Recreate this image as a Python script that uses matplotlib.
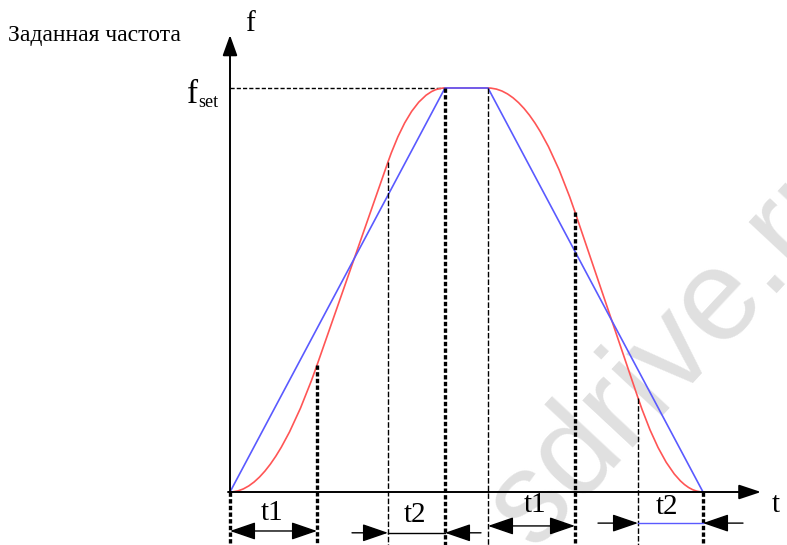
import numpy as np
import matplotlib
matplotlib.use("Agg")
import matplotlib.pyplot as plt
from matplotlib.path import Path
from matplotlib.patches import PathPatch

# schematic: time in arbitrary units, frequency normalised to f_set = 1
t_acc = [0, 87, 158, 215]        # start, end of t1, start of t2, end of acceleration
f_acc = [0, 0.314, 0.817, 1.0]
t_dec = [258, 345, 408, 473]     # start, end of t1, start of t2, end of deceleration
f_dec = [1.0, 0.693, 0.233, 0.0]
t_lin = [0, 215, 258, 473]       # linear ramp
f_lin = [0, 1.0, 1.0, 0]

title_txt = "Заданная частота"
serif = ["Liberation Serif", "DejaVu Serif"]

fig = plt.figure(figsize=(7.87, 5.45), dpi=100)
ax = fig.add_axes([0, 0, 1, 1])
ax.set_xlim(-230, 557)
ax.set_ylim(-53 / 404, 492 / 404)
ax.axis("off")


def corner(p, q, level):
    # point where the straight part p-q meets the horizontal f = level
    k = (q[1] - p[1]) / (q[0] - p[0])
    return (p[0] + (level - p[1]) / k, level)


def s_curve(t, f):
    a, b = (t[1], f[1]), (t[2], f[2])
    c0 = corner(a, b, f[0])
    c3 = corner(a, b, f[3])
    verts = [(t[0], f[0]), c0, a, b, c3, (t[3], f[3])]
    codes = [Path.MOVETO, Path.CURVE3, Path.CURVE3, Path.LINETO,
             Path.CURVE3, Path.CURVE3]
    return Path(verts, codes)


red = "#ff5555"
blue = "#5a5aff"

# watermark
ax.text(303, -0.1436, "sdrive.ru", rotation=47, rotation_mode="anchor",
        ha="left", va="baseline", fontsize=93, color="#e0e0e0",
        family="Liberation Sans", zorder=0)

for p in (s_curve(t_acc, f_acc), s_curve(t_dec, f_dec)):
    ax.add_patch(PathPatch(p, fill=False, ec=red, lw=1.2, zorder=3))
ax.plot([t_acc[3], t_dec[0]], [1, 1], color=red, lw=1.2, zorder=3)
ax.plot(t_lin, f_lin, color=blue, lw=1.2, zorder=4)

# axes with arrows
ax.annotate("", xy=(0, 1.131), xytext=(0, 0),
            arrowprops=dict(arrowstyle="-|>,head_length=1.25,head_width=0.45",
                            lw=1.4, color="k", shrinkA=0, shrinkB=0), zorder=5)
ax.annotate("", xy=(531, 0), xytext=(-2, 0),
            arrowprops=dict(arrowstyle="-|>,head_length=1.35,head_width=0.45",
                            lw=1.4, color="k", shrinkA=0, shrinkB=0), zorder=5)
ax.plot([0, t_acc[3]], [1, 1], color="k", lw=1.0, ls=(0, (3, 1.5)), zorder=2)

# vertical guide lines
ybot = -0.14
thick = dict(color="k", lw=2.4, ls=(0, (1.3, 0.7)), zorder=5)
thin = dict(color="k", lw=1.0, ls=(0, (4, 1.5)), zorder=5)
ax.plot([0, 0], [0, ybot], **thick)
ax.plot([t_acc[1]] * 2, [f_acc[1], ybot], **thick)
ax.plot([t_acc[2]] * 2, [f_acc[2], ybot], **thin)
ax.plot([t_acc[3]] * 2, [1, ybot], **thick)
ax.plot([t_dec[0]] * 2, [1, ybot], **thin)
ax.plot([t_dec[1]] * 2, [f_dec[1], ybot], **thick)
ax.plot([t_dec[2]] * 2, [f_dec[2], ybot], **thin)
ax.plot([t_dec[3]] * 2, [0, ybot], **thick)

# dimension arrows
hd = "head_length=1.6,head_width=0.55"
arw = dict(lw=1.0, color="k", shrinkA=0, shrinkB=0)


def dim_out(t0, t1, y):
    ax.annotate("", xy=(t1, y), xytext=(t0, y),
                arrowprops=dict(arrowstyle="<|-|>," + hd, **arw), zorder=6)


def dim_in(t0, t1, y, tail, mid_color="k"):
    ax.annotate("", xy=(t0, y), xytext=(t0 - tail, y),
                arrowprops=dict(arrowstyle="-|>," + hd, **arw), zorder=6)
    ax.annotate("", xy=(t1, y), xytext=(t1 + tail, y),
                arrowprops=dict(arrowstyle="-|>," + hd, **arw), zorder=6)
    ax.plot([t0, t1], [y, y], color=mid_color, lw=1.0, zorder=6)


dim_out(t_acc[0], t_acc[1], -0.0965)
dim_in(t_acc[2], t_acc[3], -0.101, 36)
dim_out(t_dec[0], t_dec[1], -0.084)
dim_in(t_dec[2], t_dec[3], -0.077, 40, mid_color=blue)

lab = dict(family=serif, fontsize=21, ha="center", va="center", zorder=7)
ax.text(42, -0.052, "t1", **lab)
ax.text(185, -0.057, "t2", **lab)
ax.text(305, -0.032, "t1", **lab)
ax.text(437, -0.037, "t2", **lab)
ax.text(546, -0.032, "t", **lab)
ax.text(20, 1.158, "f", **lab)
ax.text(-32, 0.964, "f", family=serif, fontsize=24, ha="right", va="baseline")
ax.text(-32, 0.952, "set", family=serif, fontsize=13, ha="left", va="baseline")
ax.text(-222, 1.129, title_txt, family=serif, fontsize=17, ha="left", va="center")

fig.savefig("out.png", dpi=100)
